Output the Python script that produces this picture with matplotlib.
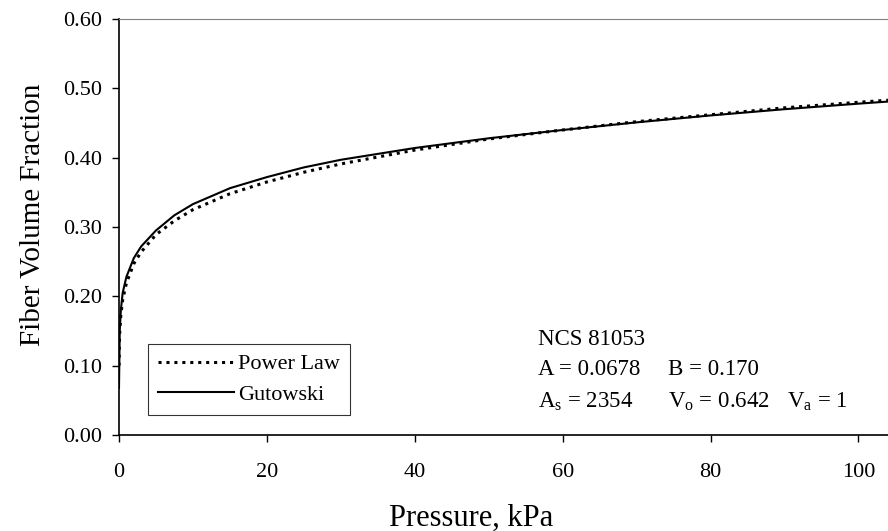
import matplotlib
matplotlib.use('Agg')
import matplotlib.pyplot as plt

plt.rcParams['font.family'] = ['Liberation Serif', 'DejaVu Serif']
plt.rcParams['mathtext.fontset'] = 'custom'
plt.rcParams['mathtext.rm'] = 'Liberation Serif'
plt.rcParams['mathtext.it'] = 'Liberation Serif'

# ---- data ----
pressure_pl = [0.01, 0.05, 0.1, 0.25, 0.5, 1, 2, 3, 5, 7.5, 10, 15, 20, 25, 30,
               40, 50, 60, 70, 80, 90, 100, 104]
vf_power_law = [0.100, 0.132, 0.148, 0.173, 0.195, 0.219, 0.247, 0.264, 0.289,
                0.309, 0.325, 0.348, 0.365, 0.379, 0.391, 0.411, 0.427, 0.440,
                0.452, 0.462, 0.472, 0.480, 0.483]

pressure_gw = [0.0, 0.1, 0.25, 0.5, 1, 2, 3, 5, 7.5, 10, 15, 20, 25, 30,
               40, 50, 60, 70, 80, 90, 100, 104]
vf_gutowski = [0.068, 0.150, 0.180, 0.205, 0.228, 0.255, 0.272, 0.295, 0.317,
               0.333, 0.356, 0.372, 0.386, 0.397, 0.414, 0.428, 0.440, 0.451,
               0.461, 0.470, 0.478, 0.481]

x_ticks = [0, 20, 40, 60, 80, 100]
y_ticks = [0.0, 0.1, 0.2, 0.3, 0.4, 0.5, 0.6]

fig = plt.figure(figsize=(8.88, 5.31), dpi=100)
ax = fig.add_axes([0.134, 0.181, 0.866, 0.783])

ax.plot(pressure_pl, vf_power_law, color='black', linewidth=2.2,
        linestyle=(0, (1, 1.6)), label='Power Law')
ax.plot(pressure_gw, vf_gutowski, color='black', linewidth=1.5,
        linestyle='-', label='Gutowski')

ax.set_xlim(0, 104)
ax.set_ylim(0, 0.6)
ax.set_xticks(x_ticks)
ax.set_yticks(y_ticks)
ax.set_xticklabels([str(t) for t in x_ticks])
ax.set_yticklabels([f'{t:.2f}' for t in y_ticks])
ax.tick_params(direction='out', length=5, width=1, labelsize=16, pad=7)
ax.tick_params(axis='x', pad=15)

ax.spines['right'].set_visible(False)
ax.spines['top'].set_color('#808080')
ax.spines['left'].set_linewidth(1.2)
ax.spines['bottom'].set_linewidth(1.2)

ax.set_xlabel('Pressure, kPa', fontsize=22)
ax.xaxis.set_label_coords(0.458, -0.165)
ax.set_ylabel('Fiber Volume Fraction', fontsize=21)
ax.yaxis.set_label_coords(-0.095, 0.529)

leg = ax.legend(loc='lower left', bbox_to_anchor=(0.038, 0.048), borderaxespad=0,
                fontsize=16, frameon=True, fancybox=False, handlelength=3.4,
                handletextpad=0.2, labelspacing=0.45, borderpad=0.45)
leg.get_frame().set_edgecolor('black')
leg.get_frame().set_linewidth(0.8)

# parameter block
tx = 56.6
fs = 16.5
ax.text(tx, 0.137, 'NCS 81053', fontsize=fs, va='center')
ax.text(tx, 0.094, 'A = 0.0678', fontsize=fs, va='center')
ax.text(74.2, 0.094, 'B = 0.170', fontsize=fs, va='center')
ax.text(tx, 0.048, r'A$_\mathrm{s}$ = 2354', fontsize=fs, va='center')
ax.text(74.2, 0.048, r'V$_\mathrm{o}$ = 0.642', fontsize=fs, va='center')
ax.text(90.4, 0.048, r'V$_\mathrm{a}$ = 1', fontsize=fs, va='center')

plt.savefig('out.png', dpi=100)
